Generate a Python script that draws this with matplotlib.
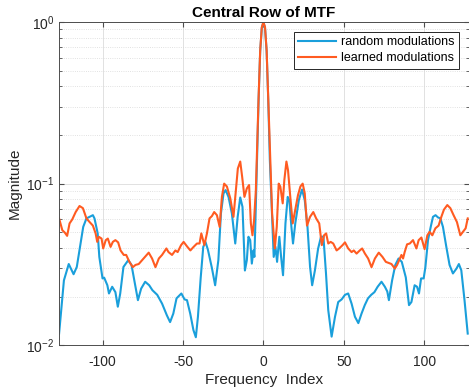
import matplotlib
matplotlib.use("Agg")
import matplotlib.pyplot as plt
from matplotlib.ticker import LogLocator, NullFormatter

# 整体字体：类似 MATLAB 的 Helvetica
plt.rcParams['font.family'] = ['Liberation Sans', 'DejaVu Sans']
plt.rcParams['mathtext.default'] = 'regular'
plt.rcParams['axes.unicode_minus'] = False

# random modulations（蓝色），从图上读取的采样点
rand_idx = [-127, -124, -121, -118, -116, -114, -112, -110, -106, -105, -103, -102,
            -100, -99, -97, -96, -94, -92, -90.5, -89, -87, -84, -82, -79.5, -78,
            -76, -73.5, -71, -69, -66, -63, -60, -58, -56, -54, -51, -49, -47.5,
            -45.5, -43.5, -42, -40.7, -39, -37.4, -36, -34.5, -32, -30, -28, -26.4,
            -24.8, -23.5, -21.7, -19.6, -17.5, -16, -14.4, -13, -11.5, -10.3, -9.3,
            -8.2, -7.2, -6.2, -5.6, -5, -4, -3, -2, -1, 0, 1, 2, 3, 4, 5, 5.6,
            6.4, 7.5, 8.5, 9.9, 11, 12.2, 13.7, 15.1, 16.1, 17.4, 18.4, 19.8, 22,
            24, 25.7, 27.4, 29, 30.3, 32, 34, 35.8, 37.3, 38.9, 40.3, 42.4, 44.5,
            46.5, 48.6, 50.7, 52.7, 54.8, 56.9, 59, 61, 63, 65, 67, 69, 71, 73.4,
            75.5, 77, 78, 80, 82, 84, 86, 88.5, 90.5, 92, 94, 95.5, 96.7, 98,
            99.6, 100.7, 102.3, 104, 105.4, 107, 108.5, 110, 111.6, 113.7, 115.7,
            117.8, 120, 121.5, 123, 125, 127]
rand_val = [0.0118, 0.0252, 0.0318, 0.0275, 0.0305, 0.0406, 0.054, 0.0609, 0.0638, 0.0609,
            0.0492, 0.0352, 0.0259, 0.0262, 0.0235, 0.0209, 0.023, 0.0213, 0.0173,
            0.0209, 0.0305, 0.0336, 0.0314, 0.023, 0.019, 0.0224, 0.0247, 0.0235,
            0.0219, 0.0205, 0.0181, 0.0153, 0.0139, 0.0157, 0.0195, 0.0209, 0.0192,
            0.019, 0.0157, 0.0124, 0.0112, 0.015, 0.026, 0.0406, 0.0435, 0.039,
            0.030, 0.0235, 0.0336, 0.0654, 0.0869, 0.0912, 0.0828, 0.0654, 0.0426,
            0.0623, 0.0821, 0.0718, 0.029, 0.0336, 0.0469, 0.0447, 0.032, 0.0386,
            0.0352, 0.0567, 0.14, 0.33, 0.66, 0.92, 1.0, 0.92, 0.66, 0.33, 0.14,
            0.08, 0.0567, 0.0352, 0.0406, 0.0328, 0.0469, 0.0352, 0.0271, 0.0567,
            0.0828, 0.079, 0.054, 0.0426, 0.0567, 0.079, 0.092, 0.079, 0.054,
            0.0305, 0.0235, 0.029, 0.0396, 0.0469, 0.047, 0.0278, 0.0165, 0.0113,
            0.015, 0.0185, 0.0192, 0.0205, 0.0209, 0.0181, 0.015, 0.0137, 0.0157,
            0.0177, 0.0195, 0.0205, 0.0213, 0.023, 0.0247, 0.023, 0.0215, 0.019,
            0.0252, 0.0314, 0.0344, 0.0328, 0.0263, 0.0177, 0.0185, 0.0235, 0.023,
            0.0209, 0.0259, 0.0259, 0.0305, 0.0447, 0.054, 0.0623, 0.0638, 0.0618,
            0.0609, 0.054, 0.0406, 0.0314, 0.0278, 0.0298, 0.0318, 0.0291, 0.019,
            0.0118]

# learned modulations（橙色）
learn_idx = [-127, -125, -123.4, -122, -120.5, -118.8, -116.7, -114.3, -112.2, -110,
             -108, -106, -104.3, -103.3, -102.3, -100.6, -99.6, -98, -96.7, -95,
             -93.6, -92, -90.3, -88.8, -86.8, -85.3, -83.3, -81.2, -79.5, -77.5,
             -75.4, -73.8, -71.3, -69.2, -67.1, -65, -63, -60.3, -59, -56.8, -54.7,
             -53.3, -51.2, -49.6, -47.5, -45.4, -43.4, -41.3, -39.7, -38.6, -36.7,
             -35.1, -33.5, -32, -30.6, -28.9, -27.2, -25.8, -24.4, -22.7, -20.6,
             -18.6, -17.1, -15.9, -14.4, -13.2, -11.8, -10.3, -8.9, -7.8, -6.8, -5.8,
             -4.7, -4, -3, -2, -1, 0, 1, 2, 3, 4, 5.4, 7.1, 8.3, 9.5, 10.5, 12, 13,
             14.3, 15.3, 16.7, 18.2, 19.5, 21.5, 23, 24.4, 25.7, 27.1, 29, 31, 32.8,
             34.7, 36.3, 37.7, 39, 40.3, 41.8, 43.4, 45.5, 47.1, 49.2, 50.7, 52.7,
             54.8, 56.2, 57.9, 59.9, 61.4, 63.1, 65.1, 67.2, 69.3, 71.7, 74, 76.1,
             78.1, 79.6, 81.7, 83.1, 84.8, 85.8, 86.8, 87.8, 89.3, 91, 93, 95.1,
             96.5, 98.2, 100.2, 101.9, 103.3, 105, 106.9, 108.9, 110.6, 112.2, 114.3,
             116.2, 118.2, 120.3, 122.4, 124, 125.7, 127]
learn_val = [0.0609, 0.0515, 0.0497, 0.0475, 0.0567, 0.0601, 0.0667, 0.0727, 0.0705,
             0.0609, 0.0578, 0.055, 0.0492, 0.0436, 0.0469, 0.0457, 0.0397, 0.0447,
             0.0457, 0.0406, 0.0436, 0.0447, 0.0433, 0.0386, 0.0362, 0.0362, 0.0328,
             0.0304, 0.0314, 0.0318, 0.0336, 0.035, 0.0374, 0.0344, 0.0304, 0.0344,
             0.0362, 0.0397, 0.0377, 0.0362, 0.0386, 0.0377, 0.0416, 0.0436, 0.0409,
             0.0386, 0.0406, 0.0426, 0.0426, 0.0492, 0.0416, 0.0492, 0.0609, 0.063,
             0.0667, 0.0638, 0.054, 0.0828, 0.100, 0.096, 0.0812, 0.0623, 0.091,
             0.124, 0.137, 0.110, 0.0828, 0.0934, 0.098, 0.0567, 0.0479, 0.0594,
             0.091, 0.16, 0.34, 0.67, 0.93, 1.0, 0.93, 0.67, 0.34, 0.17, 0.0654,
             0.0397, 0.054, 0.100, 0.096, 0.0755, 0.105, 0.137, 0.121, 0.0828,
             0.0567, 0.0667, 0.085, 0.096, 0.100, 0.087, 0.055, 0.0623, 0.0667,
             0.0609, 0.0567, 0.0416, 0.0479, 0.0492, 0.0426, 0.0436, 0.0426, 0.0386,
             0.0397, 0.0416, 0.0433, 0.0397, 0.0377, 0.0386, 0.0369, 0.0386, 0.0397,
             0.0369, 0.0344, 0.0304, 0.0344, 0.0374, 0.0352, 0.0328, 0.0322, 0.0318,
             0.0298, 0.0314, 0.0344, 0.0362, 0.0344, 0.0377, 0.0421, 0.0426, 0.0447,
             0.0397, 0.0447, 0.0464, 0.0393, 0.0479, 0.0503, 0.0479, 0.0529, 0.055,
             0.0623, 0.069, 0.0737, 0.0705, 0.0638, 0.0578, 0.0479, 0.0503, 0.0529,
             0.0609]

fig = plt.figure(figsize=(4.69, 3.87), dpi=100)
ax = fig.add_axes([0.126, 0.108, 0.873, 0.835])

ax.plot(rand_idx, rand_val, color='#1a9fdb', linewidth=1.5, solid_joinstyle='round',
        label='random modulations')
ax.plot(learn_idx, learn_val, color='#ff5b21', linewidth=1.5, solid_joinstyle='round',
        label='learned modulations')

ax.set_yscale('log')
ax.set_xlim(-127, 127.5)
ax.set_ylim(1e-2, 1)
ax.set_xticks([-100, -50, 0, 50, 100])
ax.yaxis.set_minor_locator(LogLocator(base=10, subs=range(2, 10)))
ax.yaxis.set_minor_formatter(NullFormatter())

# MATLAB 风格的网格
ax.grid(True, which='major', color='#dcdcdc', linewidth=0.6)
ax.grid(True, which='minor', axis='y', color='#d8d8d8', linewidth=0.6, linestyle=':')
ax.set_axisbelow(True)

for s in ax.spines.values():
    s.set_color('#4d4d4d')
    s.set_linewidth(0.7)
ax.tick_params(which='both', direction='in', top=True, right=True, colors='#4d4d4d',
               labelcolor='#262626', labelsize=10)
ax.tick_params(axis='x', pad=7)
ax.tick_params(which='minor', length=2)

ax.set_title('Central Row of MTF', fontsize=11, fontweight='bold', pad=4)
ax.set_xlabel('Frequency  Index', fontsize=11, color='#262626', labelpad=3)
ax.set_ylabel('Magnitude', fontsize=11, color='#262626', labelpad=3)

leg = ax.legend(loc='upper right', fontsize=9, fancybox=False, framealpha=1,
                edgecolor='#262626', borderaxespad=0.8, handlelength=3.0,
                handletextpad=0.4, borderpad=0.35, labelspacing=0.3)
leg.get_frame().set_linewidth(0.7)

fig.savefig('out.png', dpi=100)
